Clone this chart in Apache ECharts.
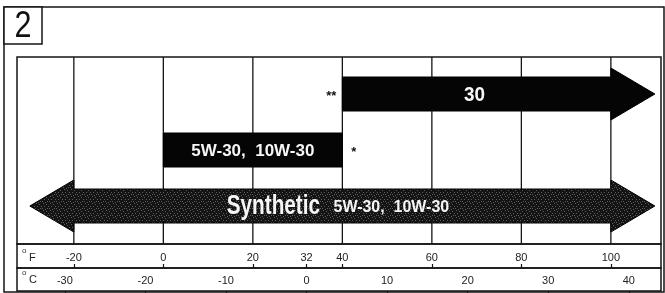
<!DOCTYPE html>
<html>
<head>
<meta charset="utf-8">
<script src="https://cdn.jsdelivr.net/npm/echarts@6/dist/echarts.min.js"></script>
<style>
html,body{margin:0;padding:0;background:#fff;}
#chart{width:665px;height:293px;}
</style>
</head>
<body>
<div id="chart"></div>
<script>
// rows of the chart (top to bottom)
var rows = ['30', '5W-30,  10W-30', 'Synthetic'];
var subLabel = ['', '', '5W-30,  10W-30'];
var startF = [40, 0, -20];
var endF = [100, 40, 100];
var arrowLeft = [false, false, true];
var arrowRight = [true, false, true];
var noteLeft = ['**', '', ''];
var noteRight = ['', '*', ''];
// scale
var gridF = [-20, 0, 20, 40, 60, 80, 100];
var tickF = [-20, 0, 20, 32, 40, 60, 80, 100];
var tickC = [-30, -20, -10, 0, 10, 20, 30, 40];
var minF = -32.7, maxF = 111.2;

function toC(f) { return (f - 32) * 5 / 9; }

var boldFont = "'Liberation Sans', Arial, sans-serif";
var lineCol = '#151515';

// speckle texture for the synthetic arrow (fixed pattern)
function makeSpeckle() {
  var cv = document.createElement('canvas');
  cv.width = 7; cv.height = 7;
  var ctx = cv.getContext('2d');
  ctx.fillStyle = '#141414';
  ctx.fillRect(0, 0, 7, 7);
  var pts = [[1,0],[4,1],[6,3],[2,3],[0,5],[5,5],[3,6]];
  ctx.fillStyle = '#5e5e5e';
  for (var k = 0; k < pts.length; k++) ctx.fillRect(pts[k][0], pts[k][1], 1, 1);
  return cv;
}
var speckle = makeSpeckle();

var chart = echarts.init(document.getElementById('chart'));

var arrowData = rows.map(function (r, i) { return [startF[i], i, endF[i]]; });

function label(txt, x, y, size, sx) {
  return {
    type: 'text', x: x, y: y, scaleX: sx,
    style: {text: txt, fill: '#f6f6f6', fontSize: size, fontWeight: 'bold',
      fontFamily: boldFont, align: 'center', verticalAlign: 'middle'}
  };
}

chart.setOption({
  animation: false,
  grid: [
    {left: 17, right: 4, top: 57, height: 187, show: true, borderColor: lineCol, borderWidth: 1.5},
    {left: 17, right: 4, top: 66, height: 168},
    {left: 17, right: 4, top: 244, height: 24, show: true, borderColor: lineCol, borderWidth: 1.5},
    {left: 17, right: 4, top: 268, height: 23, show: true, borderColor: lineCol, borderWidth: 1.5}
  ],
  xAxis: [
    {gridIndex: 0, type: 'value', min: minF, max: maxF, show: false},
    {gridIndex: 1, type: 'value', min: minF, max: maxF, show: false},
    {gridIndex: 2, type: 'value', min: minF, max: maxF, position: 'bottom',
      axisLine: {show: false},
      splitLine: {show: false},
      axisTick: {show: true, inside: true, length: 4, lineStyle: {color: lineCol, width: 1.2}, customValues: tickF},
      axisLabel: {inside: true, margin: 5, color: '#222', fontSize: 11, fontFamily: 'Liberation Sans, Arial, sans-serif',
        customValues: tickF, showMinLabel: true, showMaxLabel: true}
    },
    {gridIndex: 3, type: 'value', min: toC(minF), max: toC(maxF), position: 'top',
      axisLine: {show: false},
      splitLine: {show: false},
      axisTick: {show: true, inside: true, length: 4, lineStyle: {color: lineCol, width: 1.2}, customValues: tickC},
      axisLabel: {inside: true, margin: 7, color: '#222', fontSize: 11, fontFamily: 'Liberation Sans, Arial, sans-serif',
        customValues: tickC, showMinLabel: true, showMaxLabel: true}
    }
  ],
  yAxis: [
    {gridIndex: 0, type: 'value', min: 0, max: 1, show: false},
    {gridIndex: 1, type: 'category', data: rows, inverse: true, show: false},
    {gridIndex: 2, type: 'value', min: 0, max: 1, show: false},
    {gridIndex: 3, type: 'value', min: 0, max: 1, show: false}
  ],
  graphic: [
    {type: 'rect', shape: {x: 4, y: 7, width: 660, height: 285}, style: {fill: 'none', stroke: lineCol, lineWidth: 1.5}, z: 1},
    {type: 'rect', shape: {x: 4, y: 7, width: 38, height: 37}, style: {fill: '#fff', stroke: lineCol, lineWidth: 1.5}, z: 2},
    {type: 'text', x: 23, y: 27, scaleX: 0.85, style: {text: '2', fontSize: 36, fontFamily: 'Liberation Sans, Arial, sans-serif', fill: '#111', align: 'center', verticalAlign: 'middle'}, z: 3},
    {type: 'text', x: 22, y: 251, style: {text: 'o', fontSize: 8, fill: '#333', align: 'left', verticalAlign: 'middle'}, z: 3},
    {type: 'text', x: 29, y: 258, style: {text: 'F', fontSize: 11, fill: '#222', fontFamily: 'Liberation Sans, Arial, sans-serif', align: 'left', verticalAlign: 'middle'}, z: 3},
    {type: 'text', x: 22, y: 273, style: {text: 'o', fontSize: 8, fill: '#333', align: 'left', verticalAlign: 'middle'}, z: 3},
    {type: 'text', x: 29, y: 280, style: {text: 'C', fontSize: 11, fill: '#222', fontFamily: 'Liberation Sans, Arial, sans-serif', align: 'left', verticalAlign: 'middle'}, z: 3}
  ],
  series: [
    {
      // vertical temperature grid lines
      type: 'custom',
      xAxisIndex: 0, yAxisIndex: 0,
      z: 1,
      data: gridF.map(function (f) { return [f]; }),
      renderItem: function (params, api) {
        var cs = params.coordSys;
        var x = api.coord([api.value(0), 0])[0];
        return {
          type: 'line',
          shape: {x1: x, y1: cs.y, x2: x, y2: cs.y + cs.height},
          style: {stroke: lineCol, lineWidth: 1.3}
        };
      }
    },
    {
      // oil grade arrows
      type: 'custom',
      xAxisIndex: 1, yAxisIndex: 1,
      z: 5,
      data: arrowData,
      renderItem: function (params, api) {
        var i = params.dataIndex;
        var p0 = api.coord([api.value(0), api.value(1)]);
        var p1 = api.coord([api.value(2), api.value(1)]);
        var x0 = p0[0], x1 = p1[0], y = p0[1];
        var bh = 17, hh = 26, hl = 44;
        var pts = [];
        if (arrowLeft[i]) {
          pts.push([x0, y + hh], [x0 - hl, y], [x0, y - hh]);
        }
        pts.push([x0, y - bh], [x1, y - bh]);
        if (arrowRight[i]) {
          pts.push([x1, y - hh], [x1 + hl, y], [x1, y + hh]);
        }
        pts.push([x1, y + bh], [x0, y + bh]);
        var fill = i === 2 ? {image: speckle, repeat: 'repeat'} : '#050505';
        var cx = (x0 + x1) / 2;
        var children = [
          {type: 'polygon', shape: {points: pts}, style: {fill: fill, stroke: '#000', lineWidth: 1}}
        ];
        if (subLabel[i]) {
          children.push(label(rows[i], cx - 69, y, 28, 0.74));
          children.push(label(subLabel[i], cx + 49, y + 1, 17, 0.94));
        } else if (i === 0) {
          children.push(label(rows[i], cx - 2, y + 1, 21, 0.9));
        } else {
          children.push(label(rows[i], cx, y + 1, 17, 1));
        }
        if (noteLeft[i]) {
          children.push({
            type: 'text', x: x0 - 6, y: y + 2,
            style: {text: noteLeft[i], fill: '#111', fontSize: 13, fontWeight: 'bold', align: 'right', verticalAlign: 'middle'}
          });
        }
        if (noteRight[i]) {
          children.push({
            type: 'text', x: x1 + 9, y: y + 2,
            style: {text: noteRight[i], fill: '#111', fontSize: 13, fontWeight: 'bold', align: 'left', verticalAlign: 'middle'}
          });
        }
        return {type: 'group', children: children};
      }
    }
  ]
});
</script>
</body>
</html>
